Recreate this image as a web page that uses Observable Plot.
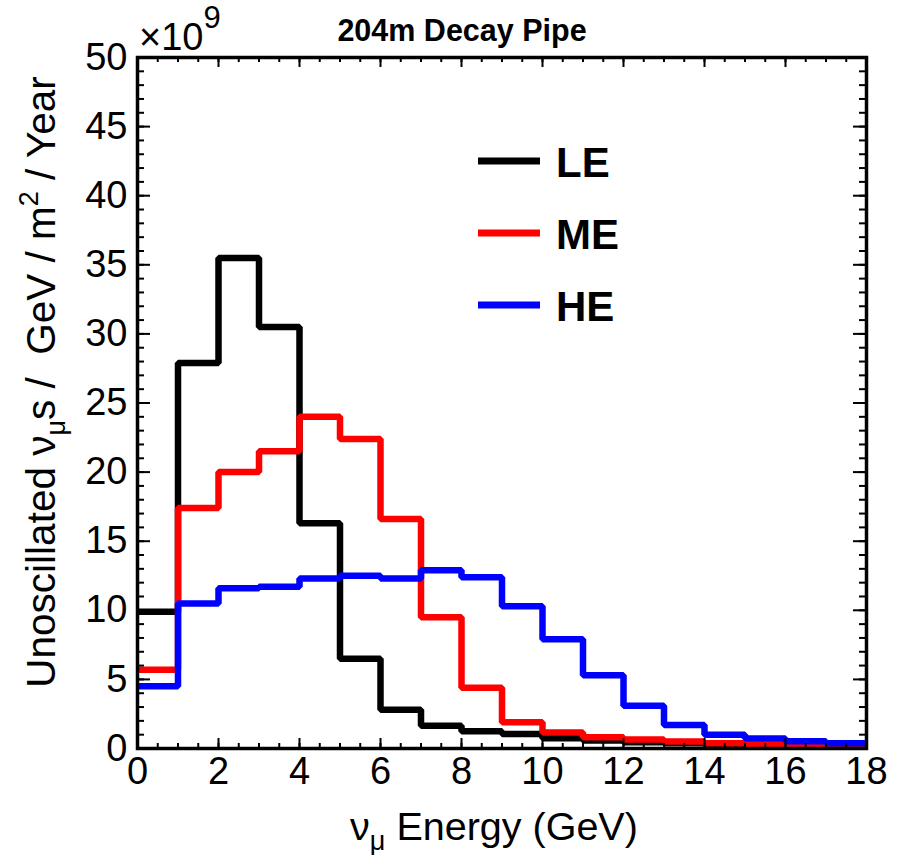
<!DOCTYPE html>
<html><head><meta charset="utf-8">
<script src="https://cdn.jsdelivr.net/npm/d3@7"></script>
<script src="https://cdn.jsdelivr.net/npm/@observablehq/plot@0.6"></script>
<style>body{margin:0;background:#fff;}</style>
</head><body><div id="chart"></div>
<script>
// ---- data (×10^9 νμ / GeV / m² / year), bins of 1 GeV ----
const binLowEdges = [0,1,2,3,4,5,6,7,8,9,10,11,12,13,14,15,16,17];
const binUpperEdge = 18;
const LE = [9.9, 27.9, 35.5, 30.5, 16.3, 6.5, 2.8, 1.65, 1.25, 1.05, 0.75, 0.58, 0.45, 0.38, 0.3, 0.25, 0.2, 0.15];
const ME = [5.7, 17.4, 20.0, 21.5, 24.0, 22.4, 16.6, 9.5, 4.4, 1.9, 1.15, 0.82, 0.65, 0.5, 0.38, 0.28, 0.2, 0.15];
const HE = [4.5, 10.5, 11.6, 11.7, 12.3, 12.5, 12.3, 12.9, 12.4, 10.3, 7.9, 5.3, 3.1, 1.7, 1.0, 0.72, 0.53, 0.38];
const seriesNames = ["LE", "ME", "HE"];
const seriesColors = ["#000000", "#ff0000", "#0000ff"];
const xTickLabels = [0,2,4,6,8,10,12,14,16,18];
const yTickLabels = [0,5,10,15,20,25,30,35,40,45,50];
const xMinorTicks = d3.range(0, 18.01, 0.5);
const yMinorTicks = d3.range(0, 50.01, 1);

const seriesValues = {LE, ME, HE};
const rows = [];
for (const name of seriesNames) {
  const v = seriesValues[name];
  binLowEdges.forEach((x, i) => rows.push({series: name, x, y: v[i]}));
  rows.push({series: name, x: binUpperEdge, y: v[v.length - 1]});
}

const W = 906, H = 855, mL = 137, mR = 40, mT = 57, mB = 107;
const iw = W - mL - mR, ih = H - mT - mB;
const font = "'Liberation Sans', Arial, Helvetica, sans-serif";

const plot = Plot.plot({
  width: W, height: H,
  marginLeft: mL, marginRight: mR, marginTop: mT, marginBottom: mB,
  style: {fontFamily: font, background: "#fff", color: "#000"},
  x: {domain: [0, 18], label: null},
  y: {domain: [0, 50], label: null},
  color: {domain: seriesNames, range: seriesColors},
  marks: [
    Plot.line(rows, {x: "x", y: "y", z: "series", stroke: "series", curve: "step-after",
      strokeWidth: 6.5, strokeLinejoin: "miter", strokeLinecap: "butt"}),
    // inward ticks (ROOT style) on all four sides
    Plot.ruleY(yMinorTicks, {insetRight: iw - 7, strokeWidth: 2}),
    Plot.ruleY(yTickLabels, {insetRight: iw - 13, strokeWidth: 2}),
    Plot.ruleY(yMinorTicks, {insetLeft: iw - 7, strokeWidth: 2}),
    Plot.ruleY(yTickLabels, {insetLeft: iw - 13, strokeWidth: 2}),
    Plot.ruleX(xMinorTicks, {insetTop: ih - 5, strokeWidth: 2}),
    Plot.ruleX(xTickLabels, {insetTop: ih - 10, strokeWidth: 2}),
    Plot.ruleX(xMinorTicks, {insetBottom: ih - 5, strokeWidth: 2}),
    Plot.ruleX(xTickLabels, {insetBottom: ih - 10, strokeWidth: 2}),
    Plot.axisY(yTickLabels, {tickSize: 0, tickPadding: 10, fontSize: 38, label: null}),
    Plot.axisX(xTickLabels, {tickSize: 0, tickPadding: 9, fontSize: 38, label: null}),
    Plot.frame({strokeWidth: 3.5})
  ]
});

const svg = d3.select(plot);
// title
svg.append("text").attr("x", 462).attr("y", 41).attr("text-anchor", "middle")
  .attr("font-family", font).attr("font-weight", "bold").attr("font-size", 30.5)
  .text("204m Decay Pipe");
// ×10^9 exponent
const ex = svg.append("text").attr("x", 139).attr("y", 50).attr("text-anchor", "start")
  .attr("font-family", font).attr("font-size", 38);
ex.append("tspan").text("×10");
ex.append("tspan").attr("font-size", 31).attr("dy", -22).text("9");
// x title
const xt = svg.append("text").attr("x", 494).attr("y", 840).attr("text-anchor", "middle")
  .attr("font-family", font).attr("font-size", 39.5);
xt.append("tspan").text("ν");
xt.append("tspan").attr("font-size", 27).attr("dy", 10).text("μ");
xt.append("tspan").attr("dy", -10).text(" Energy (GeV)");
// y title
const yt = svg.append("text").attr("transform", "translate(55,382) rotate(-90)")
  .attr("text-anchor", "middle").attr("font-family", font).attr("font-size", 40.5);
yt.append("tspan").text("Unoscillated ν");
yt.append("tspan").attr("font-size", 27).attr("dy", 10).text("μ");
yt.append("tspan").attr("dy", -10).text("s /  GeV / m");
yt.append("tspan").attr("font-size", 27).attr("dy", -17).text("2");
yt.append("tspan").attr("dy", 17).text(" / Year");
// legend
seriesNames.forEach((name, i) => {
  const cy = 161 + i * 72;
  svg.append("line").attr("x1", 478).attr("x2", 540).attr("y1", cy).attr("y2", cy)
    .attr("stroke", seriesColors[i]).attr("stroke-width", 7);
  svg.append("text").attr("x", 556).attr("y", cy + 16).attr("text-anchor", "start")
    .attr("font-family", font).attr("font-weight", "bold").attr("font-size", 42).text(name);
});

document.getElementById("chart").appendChild(plot);
</script>
</body></html>
